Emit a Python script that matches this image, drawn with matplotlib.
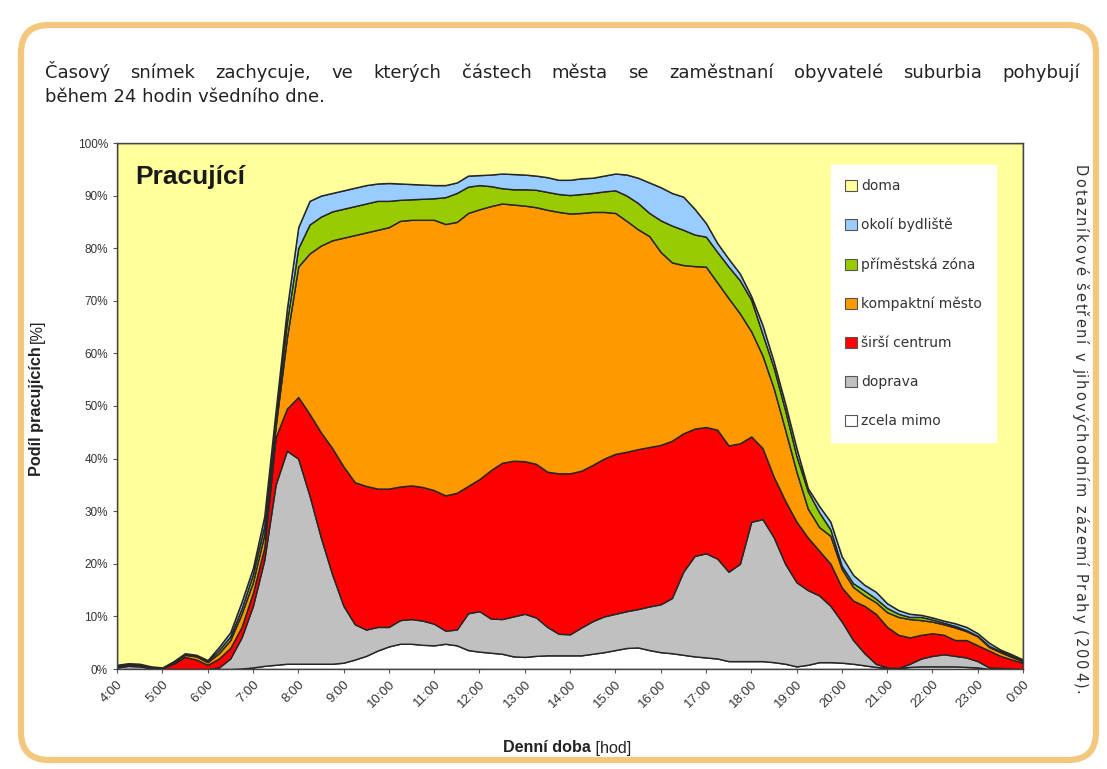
import numpy as np
import matplotlib
matplotlib.use("Agg")
import matplotlib.pyplot as plt
from matplotlib.patches import FancyBboxPatch, Patch

plt.rcParams['font.family'] = ['Liberation Sans', 'DejaVu Sans']
WIDE = ['DejaVu Sans']

W, H = 1107, 769

# time of day in hours, every 15 minutes from 4:00 to 0:00
hours = np.arange(4, 24.01, 0.25)

# shares of workers [%] per part of the city
zcela_mimo = [0, 0, 0, 0, 0, 0, 0, 0, 0, 0, 0, 0.1, 0.3, 0.6, 0.8, 1.0, 1.0, 1.0, 1.0, 1.0,
              1.2, 1.8, 2.5, 3.5, 4.3, 4.8, 4.8, 4.6, 4.5, 4.8, 4.5, 3.6, 3.3, 3.1, 2.9, 2.4,
              2.3, 2.5, 2.6, 2.6, 2.6, 2.6, 2.9, 3.2, 3.6, 4.0, 4.1, 3.6, 3.2, 3.0, 2.7, 2.4,
              2.2, 2.0, 1.5, 1.5, 1.5, 1.5, 1.3, 1.0, 0.5, 0.8, 1.3, 1.3, 1.2, 1.0, 0.7, 0.4,
              0.2, 0.2, 0.4, 0.5, 0.5, 0.5, 0.5, 0.4, 0.3, 0, 0, 0, 0]
doprava = [0.3, 0.6, 0.5, 0.2, 0, 0, 0, 0, 0, 0.3, 2.0, 5.9, 11.7, 20.1, 34.2, 40.5, 39.0, 32.0,
           24.0, 17.0, 10.8, 6.7, 5.0, 4.5, 3.7, 4.5, 4.7, 4.6, 4.1, 2.5, 3.0, 7.0, 7.7, 6.5,
           6.6, 7.6, 8.2, 7.3, 5.4, 4.1, 4.0, 5.3, 6.2, 6.8, 6.9, 7.0, 7.3, 8.3, 9.1, 10.5,
           15.8, 19.1, 19.8, 19.0, 17.0, 18.5, 26.5, 27.0, 23.7, 19.0, 16.0, 14.2, 12.7, 10.7,
           7.8, 4.5, 2.3, 0.6, 0.1, 0.0, 0.6, 1.5, 2.0, 2.3, 2.0, 1.8, 1.2, 0.3, 0.2, 0.1, 0]
sirsi_centrum = [0.2, 0.2, 0.2, 0.2, 0.2, 1.0, 2.3, 1.8, 0.8, 1.7, 2.0, 2.0, 2.5, 2.3, 9.0, 8.0,
                 11.7, 15.5, 20.0, 24.0, 26.5, 27.0, 27.3, 26.3, 26.3, 25.4, 25.4, 25.4, 25.4,
                 25.7, 26.0, 24.2, 25.1, 28.2, 29.7, 29.6, 29.0, 29.2, 29.5, 30.5, 30.6, 29.8,
                 29.7, 30.0, 30.4, 30.3, 30.4, 30.3, 30.3, 29.9, 26.3, 24.2, 24.0, 24.5, 24.0,
                 22.9, 16.2, 13.5, 11.5, 12.0, 11.5, 10.0, 8.5, 8.0, 6.5, 7.5, 9.0, 9.5, 7.7,
                 6.3, 5.0, 4.5, 4.3, 3.7, 3.0, 3.3, 3.0, 3.2, 2.3, 1.7, 1.2]
kompaktni_mesto = [0.1, 0.1, 0.1, 0.1, 0.1, 0.3, 0.4, 0.6, 0.5, 1.0, 1.5, 2.5, 2.0, 2.5, 2.0, 13.5,
                   24.8, 30.5, 35.5, 39.5, 43.5, 47.0, 48.2, 49.2, 49.7, 50.5, 50.5, 50.8, 51.4,
                   51.6, 51.5, 51.9, 51.3, 50.2, 49.3, 48.7, 48.6, 48.8, 49.8, 49.7, 49.4, 49.0,
                   48.1, 46.9, 45.8, 43.9, 41.8, 40.1, 36.7, 33.9, 32.0, 30.9, 30.5, 28.0, 28.0,
                   24.7, 20.0, 17.6, 16.8, 13.5, 9.5, 5.5, 4.5, 5.3, 3.5, 2.6, 2.0, 2.2, 2.8,
                   3.4, 3.5, 2.8, 2.2, 2.0, 2.4, 1.7, 1.7, 0.7, 0.7, 0.5, 0.3]
primestska_zona = [0.1, 0.1, 0.1, 0.0, 0, 0.1, 0.1, 0.2, 0.2, 0.6, 0.7, 1.0, 1.5, 1.7, 1.5, 3.0,
                   3.5, 5.5, 5.5, 5.5, 5.5, 5.5, 5.5, 5.5, 5.0, 4.0, 3.9, 4.0, 4.1, 5.1, 5.5,
                   5.0, 4.6, 3.8, 2.9, 2.9, 3.1, 3.3, 3.4, 3.4, 3.5, 3.6, 3.6, 3.9, 4.3, 4.8,
                   5.0, 4.4, 6.0, 7.0, 6.7, 6.0, 5.7, 5.8, 6.0, 6.3, 6.0, 4.1, 3.9, 3.7, 3.0,
                   3.3, 2.8, 1.2, 0.6, 0.7, 0.9, 0.7, 0.8, 0.6, 0.4, 0.6, 0.4, 0.3, 0.3, 0.2,
                   0.1, 0.2, 0.2, 0.2, 0.1]
okoli_bydliste = [0.1, 0.1, 0.1, 0.0, 0, 0.1, 0.2, 0.1, 0.2, 0.6, 0.8, 1.3, 1.2, 1.8, 1.5, 2.5,
                  4.0, 4.5, 4.0, 3.5, 3.5, 3.5, 3.5, 3.3, 3.4, 3.1, 2.9, 2.7, 2.5, 2.3, 2.0,
                  2.1, 1.9, 2.2, 2.8, 2.9, 2.8, 2.7, 2.8, 2.7, 2.9, 3.0, 2.9, 3.0, 3.2, 4.0,
                  4.8, 5.8, 6.3, 6.2, 6.3, 4.9, 2.6, 1.7, 1.5, 1.3, 0.7, 1.7, 1.2, 1.3, 1.5,
                  0.6, 1.2, 1.5, 1.8, 1.6, 1.1, 1.3, 0.9, 0.7, 0.6, 0.4, 0.4, 0.4, 0.5, 0.6,
                  0.5, 0.6, 0.3, 0.3, 0.2]
doma = [99.2, 98.9, 99.0, 99.5, 99.7, 98.5, 97.0, 97.3, 98.3, 95.8, 93.0, 87.2, 80.8, 71.0,
        51.0, 31.5, 16.0, 11.0, 10.0, 9.5, 9.0, 8.5, 8.0, 7.7, 7.6, 7.7, 7.8, 7.9, 8.0, 8.0,
        7.5, 6.2, 6.1, 6.0, 5.8, 5.9, 6.0, 6.2, 6.5, 7.0, 7.0, 6.7, 6.6, 6.2, 5.8, 6.0, 6.6,
        7.5, 8.4, 9.5, 10.2, 12.5, 15.2, 19.0, 22.0, 24.8, 29.1, 34.6, 41.6, 49.5, 58.0,
        65.6, 69.0, 72.0, 78.6, 82.1, 84.0, 85.3, 87.5, 88.8, 89.5, 89.7, 90.2, 90.8, 91.3,
        92.0, 93.2, 95.0, 96.3, 97.2, 98.2]

labels = ['zcela mimo', 'doprava', 'širší centrum', 'kompaktní město',
          'příměstská zóna', 'okolí bydliště', 'doma']
colors = ['#FFFFFF', '#C0C0C0', '#FF0000', '#FF9900', '#99CC00', '#99CCFF', '#FFFF9C']

tick_hours = list(range(4, 25))
tick_labels = [f"{h % 24}:00" for h in tick_hours]

fig = plt.figure(figsize=(W / 100, H / 100), dpi=100)

# background frame
bg = fig.add_axes([0, 0, 1, 1])
bg.set_xlim(0, W)
bg.set_ylim(H, 0)
bg.axis('off')
bg.add_patch(FancyBboxPatch((21, 25), 1075, 735, boxstyle="round,pad=0,rounding_size=28",
                            facecolor='white', edgecolor='#F3C77E', linewidth=4.5))

ax = fig.add_axes([117 / W, 1 - 669 / H, 906 / W, 526 / H])
ax.stackplot(hours, zcela_mimo, doprava, sirsi_centrum, kompaktni_mesto,
             primestska_zona, okoli_bydliste, doma,
             colors=colors, edgecolor='#262626', linewidth=1.05)
ax.set_xlim(4, 24)
ax.set_ylim(0, 100)
ax.set_yticks(range(0, 101, 10))
ax.set_yticklabels([f"{v}%" for v in range(0, 101, 10)], fontsize=8.5, color='#333333')
ax.set_xticks(tick_hours)
ax.set_xticklabels(tick_labels, rotation=45, ha='right', rotation_mode='anchor',
                   fontsize=9.5, color='#333333')
ax.tick_params(length=3, color='#555555', width=0.8)
for s in ax.spines.values():
    s.set_color('#444444')
    s.set_linewidth(1.0)

ax.text(0.02, 0.935, 'Pracující', transform=ax.transAxes, fontsize=19,
        fontweight='bold', color='#1a1a1a', va='center', ha='left')

handles = [Patch(facecolor=c, edgecolor='#555555', linewidth=0.8) for c in colors]
leg = ax.legend(handles[::-1], labels[::-1], loc='upper right',
                bbox_to_anchor=(0.970, 0.958), labelspacing=1.8,
                prop={'family': WIDE, 'size': 10},
                handlelength=0.85, handleheight=0.85, handletextpad=0.3,
                borderpad=1.0, borderaxespad=0, frameon=True, fancybox=False)
leg.get_frame().set_facecolor('white')
leg.get_frame().set_edgecolor('white')
leg.get_frame().set_alpha(1)
for t in leg.get_texts():
    t.set_color('#333333')

fig.canvas.draw()
r = fig.canvas.get_renderer()


def fit(t, target, vertical=False):
    bb = t.get_window_extent(r)
    size = bb.height if vertical else bb.width
    t.set_fontsize(t.get_fontsize() * target / size)


# title: first line justified word by word, second line left aligned
line1 = "Časový snímek zachycuje, ve kterých částech města se zaměstnaní obyvatelé suburbia pohybují"
line2 = "během 24 hodin všedního dne."
words = line1.split()
x0, x1 = 45, 1080
word_texts = [fig.text(0, 1 - 78 / H, w, fontsize=13, family=WIDE, color='#222222',
                       va='baseline') for w in words]
widths = [t.get_window_extent(r).width for t in word_texts]
gap = (x1 - x0 - sum(widths)) / (len(words) - 1)
x = x0
for t, wd in zip(word_texts, widths):
    t.set_x(x / W)
    x += wd + gap
fig.text(x0 / W, 1 - 102 / H, line2, fontsize=13, family=WIDE, color='#222222',
         va='baseline')

# axis labels with bold and regular parts
yl = fig.text(37 / W, 1 - 476 / H, 'Podíl pracujících', rotation=90, fontsize=10,
              fontweight='bold', color='#222222', ha='center', va='bottom')
fit(yl, 130, vertical=True)
bb = yl.get_window_extent(r)
fig.text(37 / W, (bb.y1 + 3) / H, '[%]', rotation=90, fontsize=yl.get_fontsize(),
         color='#222222', ha='center', va='bottom')

xl = fig.text(0, 1 - 748 / H, 'Denní doba', fontsize=10, fontweight='bold',
              color='#222222', va='center')
fit(xl, 88)
xr = fig.text(0, 1 - 748 / H, ' [hod]', fontsize=xl.get_fontsize(), color='#222222',
              va='center')
w1 = xl.get_window_extent(r).width
w2 = xr.get_window_extent(r).width
start = 567 - (w1 + w2) / 2
xl.set_x(start / W)
xr.set_x((start + w1) / W)

# side note, letter-spaced, reading top to bottom
side = 'Dotazníkové šetření v jihovýchodním zázemí Prahy (2004).'
fs_side = 10.5
chars = []
for ch in side:
    if ch == ' ':
        chars.append((None, 4.0))
        continue
    t = fig.text(0, 0, ch, fontsize=fs_side, family=WIDE, color='#333333',
                 rotation=-90, rotation_mode='anchor', ha='left', va='baseline')
    chars.append((t, t.get_window_extent(r).height))
track = (530 - sum(c[1] for c in chars)) / (len(chars) - 1)
y = 165
for t, h in chars:
    if t is not None:
        t.set_position((1075 / W, 1 - y / H))
    y += h + track

fig.savefig('out.png', dpi=100)
